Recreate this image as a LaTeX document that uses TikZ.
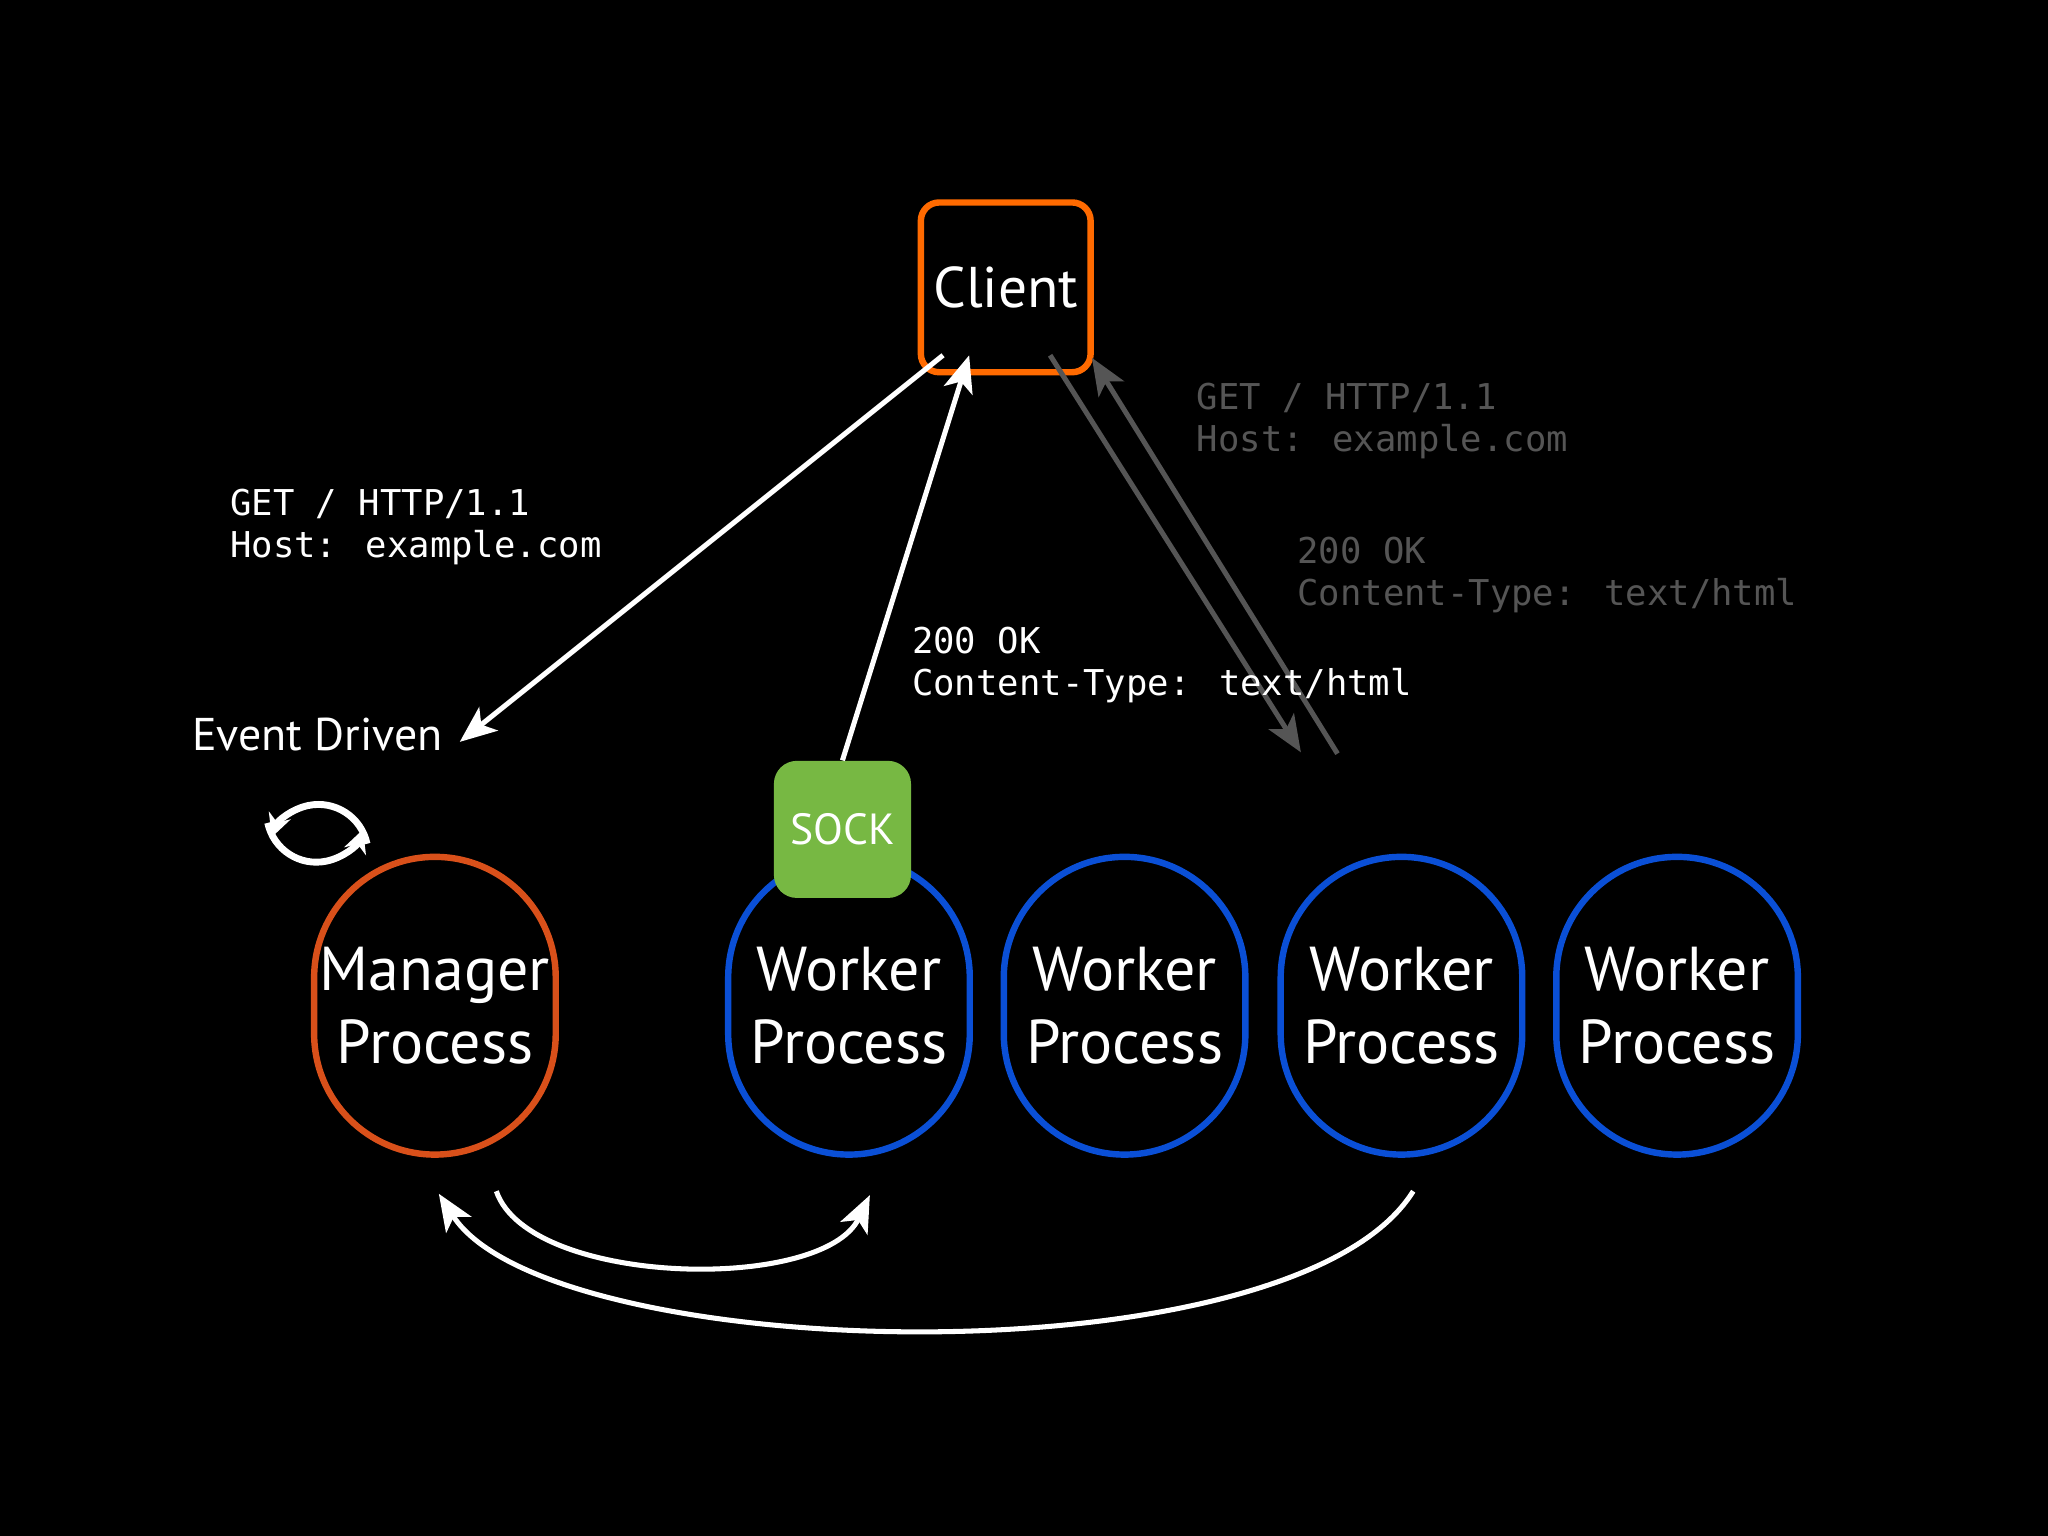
\documentclass[tikz,border=0pt]{standalone}
\usepackage{fontspec}
\setmainfont{PT Sans}
\newfontfamily\monof{DejaVu Sans Mono}
\usetikzlibrary{arrows.meta}
\definecolor{corange}{HTML}{FF6A00}
\definecolor{morange}{HTML}{D9501A}
\definecolor{wblue}{HTML}{0A4FD6}
\definecolor{sgreen}{HTML}{77B843}
\definecolor{dim}{HTML}{555555}
\begin{document}
\begin{tikzpicture}[x=0.02cm,y=-0.02cm,
  proc/.style={draw,line width=2.8pt,rounded corners=1.85cm,minimum width=3.7cm,minimum height=4.56cm,text=white,align=center,font=\fontsize{27}{32}\selectfont,inner sep=0pt},
  conn/.style={line width=2.2pt,-{Stealth[length=16pt,width=13pt,inset=4pt]}},
  mono/.style={anchor=north west,align=left,font=\monof\fontsize{15.5}{18.2}\selectfont,inner sep=0pt}]
\fill[black] (0,0) rectangle (1568,1176);
\useasboundingbox (0,0) rectangle (1568,1176);
\node[draw=corange,line width=2.8pt,rounded corners=8pt,minimum width=2.6cm,minimum height=2.6cm,text=white,font=\fontsize{25}{30}\selectfont] (client) at (770,220) {Client};
\node[proc,draw=morange] (mgr) at (333,770) {Manager\\Process};
\node[proc,draw=wblue] (w1) at (650,770) {Worker\\Process};
\node[proc,draw=wblue] (w2) at (861,770) {Worker\\Process};
\node[proc,draw=wblue] (w3) at (1073,770) {Worker\\Process};
\node[proc,draw=wblue] (w4) at (1284,770) {Worker\\Process};
\node[fill=sgreen,rounded corners=10pt,minimum width=2.1cm,minimum height=2.1cm,text=white,font=\fontsize{19}{22}\selectfont] (sock) at (645,635) {SOCK};
\coordinate (c1) at (722,272);
\coordinate (c2) at (742,272);
\coordinate (c3) at (804,272);
\coordinate (c4) at (836,274);
\coordinate (e1) at (352,568);
\coordinate (g1) at (996,576);
\coordinate (g2) at (1024,577);
\draw[conn,white] (c1) -- (e1);
\draw[conn,white] (sock.north) -- (c2);
\draw[conn,dim] (c3) -- (g1);
\draw[conn,dim] (g2) -- (c4);
\node[mono,text=white] (t1) at (176,374) {GET / HTTP/1.1\\Host: example.com};
\node[mono,text=white] (t2) at (698,480) {200 OK\\Content-Type: text/html};
\node[mono,text=dim] (t3) at (916,293) {GET / HTTP/1.1\\Host: example.com};
\node[mono,text=dim] (t4) at (993,411) {200 OK\\Content-Type: text/html};
\node[text=white,font=\fontsize{20}{24}\selectfont,inner sep=0pt] (ed) at (243,562) {Event Driven};
% cycle icon
\draw[white,line width=3pt,-{Stealth[length=10pt,width=10pt]}] (205,630) arc[start angle=168,end angle=20,radius=38];
\draw[white,line width=3pt,-{Stealth[length=10pt,width=10pt]}] (281,646) arc[start angle=-12,end angle=-160,radius=38];
% bottom arrows
\coordinate (b1) at (380,912);
\coordinate (b2) at (666,915);
\coordinate (b3) at (1082,912);
\coordinate (b4) at (336,914);
\draw[conn,white] (b1) .. controls (405,985) and (630,990) .. (b2);
\draw[conn,white] (b3) .. controls (990,1060) and (420,1045) .. (b4);
\end{tikzpicture}
\end{document}
